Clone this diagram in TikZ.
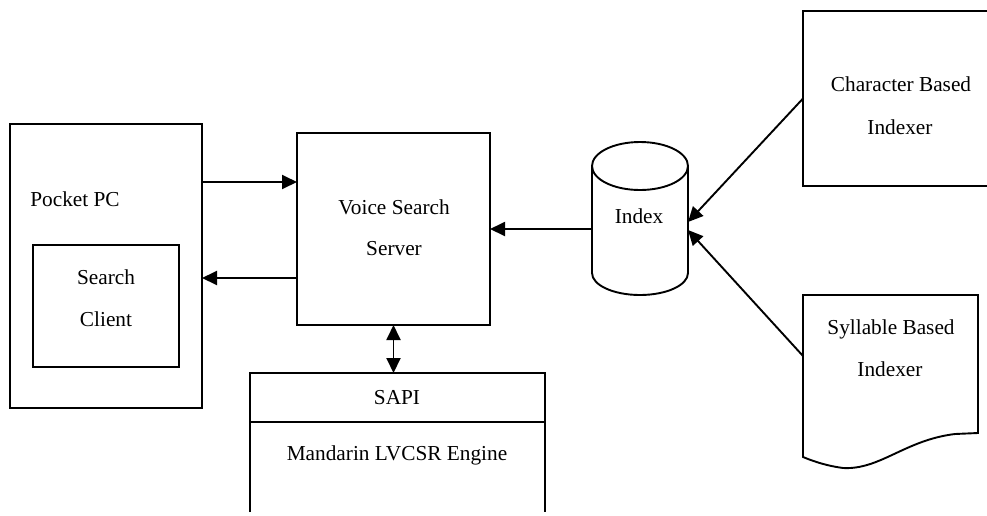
\documentclass[tikz,border=0pt]{standalone}
\usepackage{fontspec}
\setmainfont{Liberation Serif}
\usetikzlibrary{arrows.meta}
\begin{document}
\begin{tikzpicture}[x=1pt,y=-1pt,
  line width=1.9pt,
  every node/.style={inner sep=0pt, outer sep=0pt},
  lbl/.style={font=\fontsize{21.3}{25}\selectfont, text height=0.68em, text depth=0.2em, yshift=-4.5pt},
  tip/.style={-{Triangle[length=15pt,width=14pt]}},
  dtip/.style={{Triangle[length=15pt,width=14pt]}-{Triangle[length=15pt,width=14pt]}}
]
\useasboundingbox (0,0) rectangle (987,515);

% Pocket PC with the search client inside
\draw (10,124) rectangle (202,408);
\node (pocket) at (106,266) [minimum width=192pt, minimum height=284pt] {};
\draw (33,245) rectangle (179,367);
\node (client) at (106,306) [minimum width=146pt, minimum height=122pt] {};
\node[lbl] (pocketlbl) at (75,200) {Pocket PC};
\node[lbl] (clientlbl1) at (106,278) {Search};
\node[lbl] (clientlbl2) at (106,320) {Client};

% Voice search server
\draw (297,133) rectangle (490,325);
\node (server) at (393.5,229) [minimum width=193pt, minimum height=192pt] {};
\node[lbl] (serverlbl1) at (394,208) {Voice Search};
\node[lbl] (serverlbl2) at (394,249) {Server};

% SAPI / recognition engine (open at the bottom)
\draw (250,512) -- (250,373) -- (545,373) -- (545,512);
\draw (250,422) -- (545,422);
\coordinate (sapitop) at (393.5,373);
\node[lbl] (sapilbl) at (397,398) {SAPI};
\node[lbl] (enginelbl) at (397,454) {Mandarin LVCSR Engine};

% Index store (cylinder)
\draw (592,166) -- (592,273) arc[start angle=180, end angle=0, x radius=48, y radius=22]
      -- (688,166);
\draw (640,166) ellipse[x radius=48, y radius=24];
\node (index) at (640,220) [minimum width=96pt, minimum height=110pt] {};
\node[lbl] (indexlbl) at (639,217) {Index};
\coordinate (idxin1) at (688,222);
\coordinate (idxin2) at (688,230);

% Character based indexer (runs off the right edge)
\draw (1000,11) -- (803,11) -- (803,186) -- (1000,186);
\node (charidx) at (901.5,98.5) [minimum width=197pt, minimum height=175pt] {};
\node[lbl] (charlbl1) at (901,85) {Character Based};
\node[lbl] (charlbl2) at (900,128) {Indexer};

% Syllable based indexer (document shape)
\draw (803,295) -- (978,295) -- (978,433) -- (955,434)
      .. controls (905,440) and (880,470) .. (843,468)
      .. controls (828,466) and (815,462) .. (803,457) -- cycle;
\node (sylidx) at (890.5,376) [minimum width=175pt, minimum height=162pt] {};
\coordinate (sylout) at (803,356);
\node[lbl] (syllbl1) at (891,328) {Syllable Based};
\node[lbl] (syllbl2) at (890,370) {Indexer};

% Connectors
\draw[tip] (pocket.east |- 0,182) -- (server.west |- 0,182);
\draw[tip] (server.west |- 0,278) -- (pocket.east |- 0,278);
\draw[dtip] (server.south) -- (sapitop);
\draw[tip] (index.west |- server.east) -- (server.east);
\draw[tip] (charidx.west) -- (idxin1);
\draw[tip] (sylout) -- (idxin2);
\end{tikzpicture}
\end{document}
